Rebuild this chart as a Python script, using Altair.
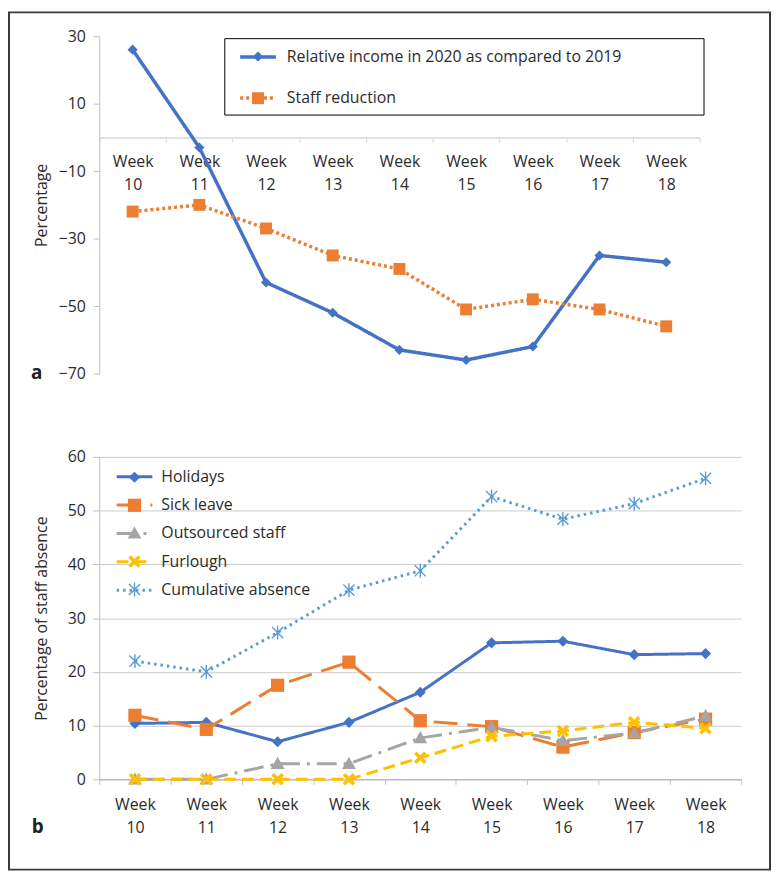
import altair as alt
import pandas as pd

weeks = ["Week 10", "Week 11", "Week 12", "Week 13", "Week 14",
         "Week 15", "Week 16", "Week 17", "Week 18"]

# Panel a
series_a = ["Relative income in 2020 as compared to 2019", "Staff reduction"]
income_change = [26, -3, -43, -52, -63, -66, -62, -35, -37]
staff_reduction = [-22, -20, -27, -35, -39, -51, -48, -51, -56]

# Panel b
series_b = ["Holidays", "Sick leave", "Outsourced staff", "Furlough", "Cumulative absence"]
holidays = [10.4, 10.6, 7.0, 10.6, 16.2, 25.4, 25.7, 23.2, 23.4]
sick_leave = [11.9, 9.3, 17.5, 21.8, 10.9, 9.8, 6.0, 8.7, 11.2]
outsourced = [0, 0, 2.9, 2.9, 7.7, 9.7, 7.2, 8.6, 11.8]
furlough = [0, 0, 0, 0, 4.0, 8.0, 9.0, 10.6, 9.5]
cumulative = [22.0, 20.0, 27.3, 35.2, 38.8, 52.6, 48.4, 51.3, 56.0]

panel_letters = ["a", "b"]

FONT = "Open Sans"
TXT = "#2b2b2b"
FS = 16

df_a = pd.DataFrame({
    "week": weeks * 2,
    "value": income_change + staff_reduction,
    "series_a": [series_a[0]] * len(weeks) + [series_a[1]] * len(weeks),
})
vals_b = [holidays, sick_leave, outsourced, furlough, cumulative]
df_b = pd.DataFrame({
    "week": [w for _ in series_b for w in weeks],
    "value": [v for s in vals_b for v in s],
    "series_b": [s for s in series_b for _ in weeks],
})

colors_a = ["#4472C4", "#ED7D31"]
dash_a = [[1, 0], [3, 3]]
shapes_a = ["M0,-0.85L0.85,0L0,0.85L-0.85,0Z", "M-1,-1L1,-1L1,1L-1,1Z"]

colors_b = ["#4472C4", "#ED7D31", "#A5A5A5", "#FFC000", "#5B9BD5"]
dash_b = [[1, 0], [24, 10], [20, 7, 3, 7], [12, 6], [2.5, 4]]
X_PATH = ("M-0.9,-0.54L-0.54,-0.9L0,-0.36L0.54,-0.9L0.9,-0.54L0.36,0L0.9,0.54"
          "L0.54,0.9L0,0.36L-0.54,0.9L-0.9,0.54L-0.36,0Z")
AST_PATH = ("M-0.1,-1L0.1,-1L0.1,1L-0.1,1Z"
            "M-0.87,-0.73L-0.73,-0.87L0.87,0.73L0.73,0.87Z"
            "M-0.73,0.87L-0.87,0.73L0.73,-0.87L0.87,-0.73Z")
shapes_b = ["M0,-0.8L0.8,0L0,0.8L-0.8,0Z",
            "M-0.95,-0.95L0.95,-0.95L0.95,0.95L-0.95,0.95Z",
            "M0,-1L1,0.75L-1,0.75Z",
            X_PATH, AST_PATH]

WA, HA = 605, 340
WB, HB = 647, 325

label_common = dict(labelFont=FONT, labelFontSize=FS, labelColor=TXT)


def x_enc(tick_color, offset=0, label_pad=11):
    return alt.X(
        "week:N", sort=weeks, bandPosition=0.5,
        scale=alt.Scale(type="band", domain=weeks, paddingInner=0, paddingOuter=0),
        axis=alt.Axis(title=None, tickBand="extent", labelAngle=0,
                      labelExpr="split(datum.label, ' ')", labelBaseline="top",
                      labelLineHeight=23.5, labelPadding=label_pad, tickSize=5,
                      domainColor=tick_color, tickColor=tick_color, domainWidth=1.5,
                      offset=offset, **label_common),
    )


# ---------------- Panel a ----------------
# invisible title on the right only widens the framed legend box
legA_line = alt.Legend(title="xxxxxxxx", titleOrient="right", titleOpacity=0,
                       titleFont=FONT, titleFontSize=FS, titlePadding=0,
                       orient="none", legendX=126, legendY=2,
                       symbolType="M-2,0L2,0", symbolSize=324, symbolStrokeWidth=3.5,
                       padding=8, rowPadding=22.3, symbolOffset=15, labelOffset=18,
                       labelLimit=0, strokeColor="black", **label_common)
# marker-only legend overlaid on the line legend (no label text)
legA_pt = alt.Legend(title=None, orient="none", legendX=126, legendY=0,
                     symbolSize=144, symbolStrokeWidth=0, padding=12.5, rowPadding=26,
                     symbolOffset=13.5, labelLimit=0, labelOpacity=0, labelExpr="''",
                     **label_common)

y_a = alt.Y("value:Q",
            scale=alt.Scale(domain=[-70, 30], nice=False, zero=False),
            axis=alt.Axis(title="Percentage", values=[30, 10, -10, -30, -50, -70],
                          grid=False, tickSize=6, labelPadding=8, domainColor="#bfbfbf",
                          tickColor="#bfbfbf", titleFont=FONT, titleFontSize=FS,
                          titleColor=TXT, titleFontWeight="normal", titleX=-58,
                          titleY=HA / 2, titleBaseline="middle", titleAngle=-90,
                          **label_common))

xa = x_enc("#d9d9d9", offset=-(HA * 70 / 100), label_pad=11)

line_a = alt.Chart(df_a).mark_line(strokeWidth=3.5).encode(
    x=xa, y=y_a,
    color=alt.Color("series_a:N", scale=alt.Scale(domain=series_a, range=colors_a), legend=legA_line),
    strokeDash=alt.StrokeDash("series_a:N", scale=alt.Scale(domain=series_a, range=dash_a), legend=legA_line),
)
pts_a = alt.Chart(df_a).mark_point(filled=True, size=144, opacity=1).encode(
    x=xa, y=y_a,
    color=alt.Color("series_a:N", scale=alt.Scale(domain=series_a, range=colors_a), legend=legA_pt),
    shape=alt.Shape("series_a:N", scale=alt.Scale(domain=series_a, range=shapes_a), legend=legA_pt),
)
letter_a = alt.Chart(pd.DataFrame({"t": [panel_letters[0]]})).mark_text(
    font=FONT, fontSize=19, fontWeight="bold", color="#222222", align="center", baseline="middle"
).encode(text="t:N", x=alt.value(-63), y=alt.value(HA))

panel_a = alt.layer(line_a, pts_a, letter_a).resolve_legend(
    color="independent", strokeDash="independent", shape="independent"
).properties(width=WA, height=HA)

# ---------------- Panel b ----------------
legB_line = alt.Legend(title=None, orient="none", legendX=0, legendY=0,
                       symbolType="M-2,0L2,0", symbolSize=324, symbolStrokeWidth=3,
                       padding=9.5, rowPadding=9.6, symbolOffset=15.5, labelOffset=16.5,
                       labelLimit=0, **label_common)
legB_pt = alt.Legend(title=None, orient="none", legendX=0, legendY=0,
                     symbolSize=196, symbolStrokeWidth=0, padding=12.5, rowPadding=12.3,
                     symbolOffset=15, labelLimit=0, labelOpacity=0, labelExpr="''",
                     **label_common)

y_b = alt.Y("value:Q",
            scale=alt.Scale(domain=[0, 60], nice=False),
            axis=alt.Axis(title="Percentage of staff absence", values=[0, 10, 20, 30, 40, 50, 60],
                          grid=True, gridColor="#cccccc", tickSize=7, labelPadding=7,
                          domainColor="#bfbfbf", tickColor="#bfbfbf", titleFont=FONT,
                          titleFontSize=FS, titleColor=TXT, titleFontWeight="normal",
                          titleX=-58, titleY=HB / 2, titleBaseline="middle", titleAngle=-90,
                          **label_common))
xb = x_enc("#bfbfbf", offset=0, label_pad=12)

line_b = alt.Chart(df_b).mark_line(strokeWidth=3).encode(
    x=xb, y=y_b,
    color=alt.Color("series_b:N", scale=alt.Scale(domain=series_b, range=colors_b), legend=legB_line),
    strokeDash=alt.StrokeDash("series_b:N", scale=alt.Scale(domain=series_b, range=dash_b), legend=legB_line),
)
pts_b = alt.Chart(df_b).mark_point(filled=True, size=196, opacity=1).encode(
    x=xb, y=y_b,
    color=alt.Color("series_b:N", scale=alt.Scale(domain=series_b, range=colors_b), legend=legB_pt),
    shape=alt.Shape("series_b:N", scale=alt.Scale(domain=series_b, range=shapes_b), legend=legB_pt),
)
letter_b = alt.Chart(pd.DataFrame({"t": [panel_letters[1]]})).mark_text(
    font=FONT, fontSize=19, fontWeight="bold", color="#222222", align="center", baseline="middle"
).encode(text="t:N", x=alt.value(-62), y=alt.value(HB + 48))

frame = alt.Chart(pd.DataFrame({"t": [0]})).mark_rect(
    fillOpacity=0, stroke="#3a3a3a", strokeWidth=2
).encode(x=alt.value(-91), x2=alt.value(676), y=alt.value(-448), y2=alt.value(416))

panel_b = alt.layer(frame, line_b, pts_b, letter_b).resolve_legend(
    color="independent", strokeDash="independent", shape="independent"
).properties(width=WB, height=HB)

chart = alt.vconcat(panel_a, panel_b, spacing=84, bounds="flush").resolve_scale(
    color="independent", shape="independent", strokeDash="independent", x="independent"
).properties(padding=0, background="white").configure_view(stroke=None)

chart.save("out.html", embed_options={"renderer": "svg", "actions": False})
